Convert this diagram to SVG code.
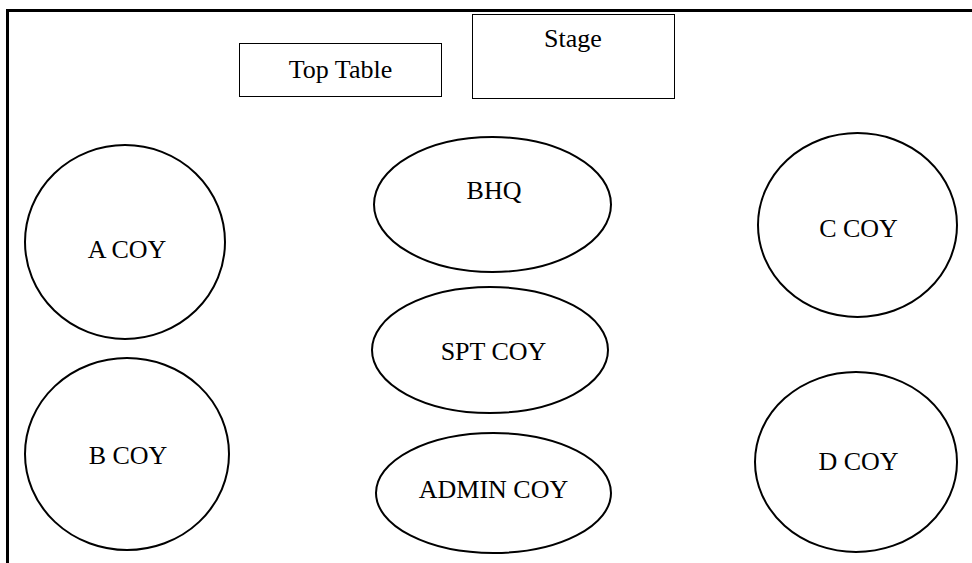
<svg xmlns="http://www.w3.org/2000/svg" width="972" height="563" viewBox="0 0 972 563">
<style>
.frame{stroke:#000;stroke-width:3;fill:none}
.box{fill:#fff;stroke:#000;stroke-width:1}
.tbl{fill:#fff;stroke:#000;stroke-width:2}
text{font-family:"Liberation Serif","Times New Roman",serif;font-size:26px;fill:#000;text-anchor:middle}
</style>
<rect width="972" height="563" fill="#fff"/>
<g id="frame">
<path class="frame" d="M7.5 563 V10.5 H972"/>
</g>
<g id="top-table"><rect class="box" x="239.5" y="43.5" width="202" height="53"/><text x="340.5" y="78">Top Table</text></g>
<g id="stage"><rect class="box" x="472.5" y="14.5" width="202" height="84"/><text x="573" y="47">Stage</text></g>
<g id="a-coy"><ellipse class="tbl" cx="125" cy="242" rx="100" ry="97"/><text x="127" y="258">A COY</text></g>
<g id="b-coy"><ellipse class="tbl" cx="127" cy="454" rx="102" ry="96"/><text x="128" y="464">B COY</text></g>
<g id="bhq"><ellipse class="tbl" cx="492.5" cy="204.5" rx="118.5" ry="67.5"/><text x="494" y="199">BHQ</text></g>
<g id="spt-coy"><ellipse class="tbl" cx="490" cy="350" rx="118" ry="63"/><text x="493.5" y="360">SPT COY</text></g>
<g id="admin-coy"><ellipse class="tbl" cx="493.5" cy="493" rx="117.5" ry="60"/><text x="493.5" y="498">ADMIN COY</text></g>
<g id="c-coy"><ellipse class="tbl" cx="857.5" cy="225" rx="99.5" ry="92"/><text x="858.5" y="237">C COY</text></g>
<g id="d-coy"><ellipse class="tbl" cx="856" cy="462" rx="101" ry="90"/><text x="858.5" y="470">D COY</text></g>
<g id="connectors"/>
</svg>
